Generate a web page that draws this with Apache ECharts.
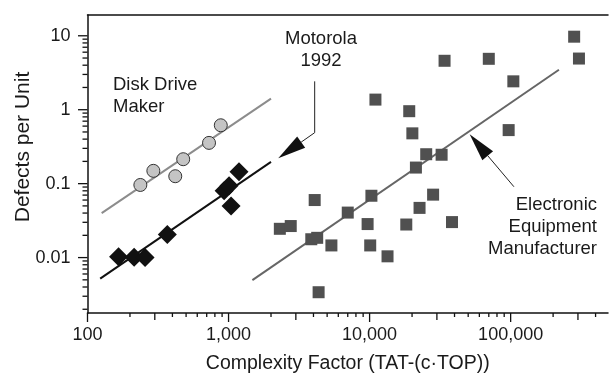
<!DOCTYPE html>
<html>
<head>
<meta charset="utf-8">
<script src="https://cdn.jsdelivr.net/npm/echarts@6/dist/echarts.min.js"></script>
<style>
  html, body { margin: 0; padding: 0; background: #fff; }
  #chart { width: 611px; height: 379px; }
</style>
</head>
<body>
<div id="chart"></div>
<script>
// Disk Drive Maker
const diskX = [237, 293, 419, 477, 727, 881];
const diskY = [0.096, 0.149, 0.126, 0.214, 0.356, 0.616];

// Motorola 1992
const motoX = [166, 214, 256, 368, 930, 1008, 1042, 1186];
const motoY = [0.0103, 0.0101, 0.0100, 0.0205, 0.080, 0.094, 0.050, 0.145];

// Electronic Equipment Manufacturer
const elecX = [2310, 2760, 3860, 4250, 4080, 4350, 5360, 7000, 9680, 10100, 10300, 11000, 13400,
  18200, 19100, 20100, 21300, 22600, 25200, 28200, 32400, 34000, 38400, 70000, 96800, 104500,
  282000, 305000];
const elecY = [0.0245, 0.0267, 0.0177, 0.0185, 0.060, 0.0034, 0.0146, 0.0406, 0.0284, 0.0146,
  0.0686, 1.37, 0.0104, 0.028, 0.955, 0.479, 0.165, 0.047, 0.25, 0.071, 0.246, 4.59, 0.0302,
  4.88, 0.53, 2.42, 9.72, 4.92];

// fitted trend lines (end points)
const diskFitX = [126, 2000];
const diskFitY = [0.040, 1.415];
const motoFitX = [123, 2000];
const motoFitY = [0.0052, 0.197];
const elecFitX = [1476, 220000];
const elecFitY = [0.00495, 3.47];

// callout arrows, last point is the arrow tip
const motoCallout = [[4080, 2.42], [4080, 0.489], [2250, 0.221]];
const elecCallout = [[105500, 0.0908], [51200, 0.465]];

// axes
const xMin = 100, xMax = 490000;
const yMin = 0.00178, yMax = 19.1;
const xTickValues = [100, 1000, 10000, 100000];
const xTickLabels = ['100', '1,000', '10,000', '100,000'];
const yTickValues = [0.01, 0.1, 1, 10];
const yTickLabels = ['0.01', '0.1', '1', '10'];

const pair = (xs, ys) => xs.map((x, i) => [x, ys[i]]);

function labelFor(values, labels) {
  return (v) => {
    const i = values.findIndex(t => Math.abs(Math.log10(v) - Math.log10(t)) < 1e-6);
    return i < 0 ? '' : labels[i];
  };
}

// minor ticks: 2..9 of each decade
const xTicks = [];
for (let d = 100; d <= xMax; d *= 10) {
  xTicks.push([d, yMin, 9]);
  for (let k = 2; k <= 9; k++) {
    if (k * d <= xMax) xTicks.push([k * d, yMin, k === 3 ? 7 : 4]);
  }
}
const yTicks = [];
for (let d = 0.001; d <= yMax; d *= 10) {
  if (d >= yMin) yTicks.push([xMin, d, 9.5]);
  for (let k = 2; k <= 9; k++) {
    const v = k * d;
    if (v >= yMin && v <= yMax) yTicks.push([xMin, v, 5]);
  }
}

const chart = echarts.init(document.getElementById('chart'));
const textColor = '#1a1a1a';
const font = 'Liberation Sans, Arial, sans-serif';

const option = {
  animation: false,
  grid: { left: 87.5, right: 0, top: 15, bottom: 64.5 },
  xAxis: [
    {
      type: 'log', min: xMin, max: xMax,
      name: 'Complexity Factor (TAT-(c\u00b7TOP))',
      nameLocation: 'middle', nameGap: 41,
      nameTextStyle: { color: textColor, fontSize: 19.5, fontFamily: font },
      axisLine: { show: true, lineStyle: { color: '#111', width: 1.5 } },
      axisTick: { show: false },
      splitLine: { show: false },
      axisLabel: {
        margin: 13, color: textColor, fontSize: 18, fontFamily: font,
        formatter: labelFor(xTickValues, xTickLabels)
      }
    },
    {
      type: 'log', min: xMin, max: xMax, position: 'top',
      axisLine: { show: true, lineStyle: { color: '#111', width: 1.5 } },
      axisTick: { show: false }, axisLabel: { show: false }, splitLine: { show: false }
    }
  ],
  yAxis: {
    type: 'log', min: yMin, max: yMax,
    axisLine: { show: true, lineStyle: { color: '#111', width: 1.5 } },
    axisTick: { show: false },
    splitLine: { show: false },
    axisLabel: {
      margin: 17, color: textColor, fontSize: 18, fontFamily: font,
      formatter: labelFor(yTickValues, yTickLabels)
    }
  },
  graphic: [
    {
      type: 'text', x: 23, y: 147, rotation: Math.PI / 2,
      style: { text: 'Defects per Unit', fill: textColor, font: '21px ' + font, align: 'center', verticalAlign: 'middle' }
    },
    {
      type: 'text', left: 113, top: 74.5,
      style: { text: 'Disk Drive\nMaker', fill: textColor, font: '18.5px ' + font, lineHeight: 21.5 }
    },
    {
      type: 'text', x: 321, y: 27.5,
      style: { text: 'Motorola\n1992', fill: textColor, font: '18.5px ' + font, lineHeight: 22, align: 'center', verticalAlign: 'top' }
    },
    {
      type: 'text', x: 597, y: 193.5,
      style: { text: 'Electronic\nEquipment\nManufacturer', fill: textColor, font: '18.5px ' + font, lineHeight: 22, align: 'right', verticalAlign: 'top' }
    }
  ],
  series: [
    {
      type: 'custom', name: 'xTicks', xAxisIndex: 0, silent: true,
      data: xTicks,
      renderItem: (params, api) => {
        const p = api.coord([api.value(0), api.value(1)]);
        const len = api.value(2);
        return { type: 'line', shape: { x1: p[0], y1: p[1], x2: p[0], y2: p[1] + len }, style: { stroke: '#111', lineWidth: 1.3 } };
      }
    },
    {
      type: 'custom', name: 'yTicks', xAxisIndex: 0, silent: true,
      data: yTicks,
      renderItem: (params, api) => {
        const p = api.coord([api.value(0), api.value(1)]);
        const len = api.value(2);
        return { type: 'line', shape: { x1: p[0], y1: p[1], x2: p[0] - len, y2: p[1] }, style: { stroke: '#111', lineWidth: 1.3 } };
      }
    },
    {
      type: 'line', data: pair(diskFitX, diskFitY), symbol: 'none',
      lineStyle: { color: '#8c8c8c', width: 2 }, z: 2
    },
    {
      type: 'line', data: pair(motoFitX, motoFitY), symbol: 'none',
      lineStyle: { color: '#111', width: 2 }, z: 2
    },
    {
      type: 'line', data: pair(elecFitX, elecFitY), symbol: 'none',
      lineStyle: { color: '#666', width: 2 }, z: 2
    },
    {
      type: 'custom', name: 'callouts', silent: true, z: 3,
      data: [motoCallout, elecCallout].map(c => c[0]),
      renderItem: (params, api) => {
        const pts = [motoCallout, elecCallout][params.dataIndex].map(p => api.coord(p));
        const tip = pts[pts.length - 1];
        const prev = pts[pts.length - 2];
        const dx = prev[0] - tip[0], dy = prev[1] - tip[1];
        const l = Math.hypot(dx, dy);
        const ux = dx / l, uy = dy / l;
        const bx = tip[0] + ux * 28, by = tip[1] + uy * 28;
        const px = -uy * 7, py = ux * 7;
        const linePts = pts.slice(0, -1).concat([[bx, by]]);
        return {
          type: 'group',
          children: [
            { type: 'polyline', shape: { points: linePts }, style: { stroke: '#222', lineWidth: 1, fill: null } },
            { type: 'polygon', shape: { points: [tip, [bx + px, by + py], [bx - px, by - py]] }, style: { fill: '#111' } }
          ]
        };
      }
    },
    {
      type: 'scatter', name: 'Disk Drive Maker', data: pair(diskX, diskY),
      symbol: 'circle', symbolSize: 13,
      itemStyle: { color: '#c4c4c4', borderColor: '#333', borderWidth: 1, opacity: 1 }, z: 4
    },
    {
      type: 'scatter', name: 'Motorola 1992', data: pair(motoX, motoY),
      symbol: 'diamond', symbolSize: 19,
      itemStyle: { color: '#111', opacity: 1 }, z: 4
    },
    {
      type: 'scatter', name: 'Electronic Equipment Manufacturer', data: pair(elecX, elecY),
      symbol: 'rect', symbolSize: 12,
      itemStyle: { color: '#505050', opacity: 1 }, z: 4
    }
  ]
};

chart.setOption(option);
window.addEventListener('resize', () => chart.resize());
</script>
</body>
</html>
